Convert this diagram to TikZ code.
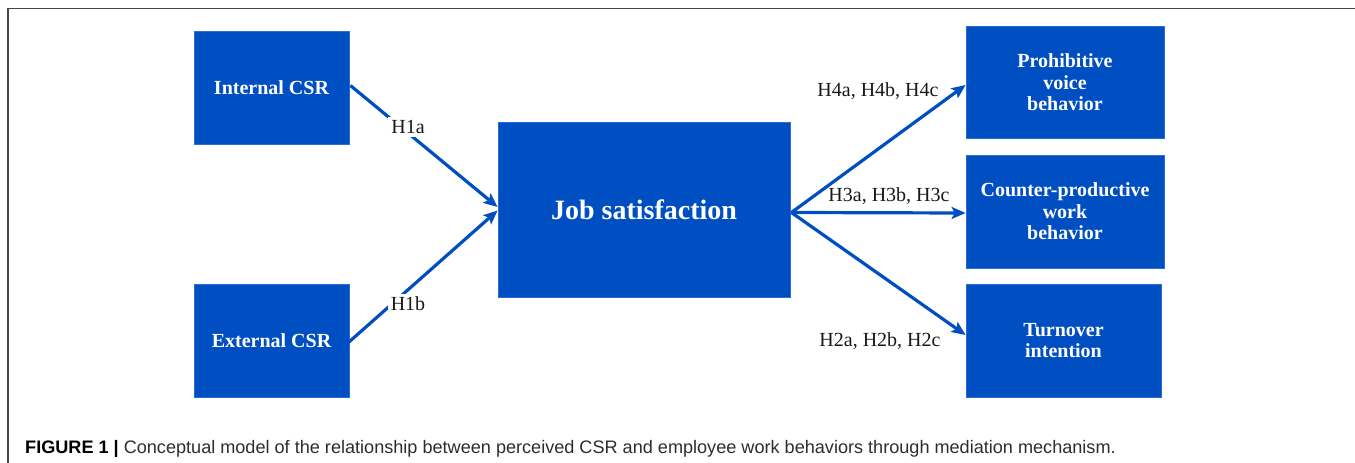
\documentclass[tikz,border=0pt]{standalone}
\usepackage{fontspec}
\setmainfont{Liberation Serif}
\newfontfamily\capfont{Liberation Sans}
\usetikzlibrary{arrows.meta,calc}
\definecolor{boxblue}{RGB}{0,79,194}
\definecolor{edgeblue}{RGB}{40,110,215}
\definecolor{framegray}{RGB}{70,70,70}
\definecolor{labelcol}{RGB}{25,25,25}
\definecolor{capgray}{RGB}{45,45,45}
\begin{document}
\begin{tikzpicture}[x=1pt,y=-1pt,
  blockbox/.style={draw=edgeblue,line width=0.8pt,fill=boxblue,text=white,align=center,
    inner sep=0pt,font=\fontsize{20}{21.5}\selectfont\bfseries},
  arr/.style={draw=boxblue,line width=3.2pt,-{Stealth[length=14pt,width=12pt,inset=3pt]}},
  hlabel/.style={text=labelcol,inner sep=1pt,font=\fontsize{20}{22}\selectfont},
  hlabelcut/.style={hlabel,fill=white,inner sep=3pt}]
\useasboundingbox (0,0) rectangle (1355,463);
% frame
\draw[framegray,line width=1.5pt] (8,463) -- (8,8.5) -- (1355,8.5);
% boxes
\node[blockbox,minimum width=155pt,minimum height=113pt] (int) at (271.5,87.5) {Internal CSR};
\node[blockbox,minimum width=155pt,minimum height=113pt] (ext) at (271.5,340.5) {External CSR};
\node[blockbox,minimum width=292pt,minimum height=175pt,font=\fontsize{28}{30}\selectfont\bfseries] (job) at (644,209.5) {Job satisfaction};
\node[blockbox,minimum width=198pt,minimum height=112pt] (pro) at (1065,82.5) {Prohibitive\\voice\\behavior};
\node[blockbox,minimum width=198pt,minimum height=113pt] (cnt) at (1065,211.5) {Counter-productive\\work\\behavior};
\node[blockbox,minimum width=195pt,minimum height=113pt] (trn) at (1063.5,340.5) {Turnover\\intention};
% connectors
\draw[arr] ($(int.east)+(1,-2)$) -- ($(job.west)+(0,-2.5)$);
\draw[arr] ($(ext.east)+(-1,2)$) -- ($(job.west)+(0,1)$);
\draw[arr] ($(job.east)+(1,3)$) -- ($(pro.west)+(0,2.5)$);
\draw[arr] ($(job.east)+(1,3)$) -- ($(cnt.west)+(0,1.5)$);
\draw[arr] ($(job.east)+(1,3)$) -- ($(trn.west)+(0,-5.5)$);
% labels
\node[hlabelcut] (l1a) at (408,127) {H1a};
\node[hlabelcut] (l1b) at (408,304) {H1b};
\node[hlabel] (l4) at (878,91) {H4a, H4b, H4c};
\node[hlabel] (l3) at (889,196) {H3a, H3b, H3c};
\node[hlabel] (l2) at (880,341) {H2a, H2b, H2c};
% caption
\node[anchor=base west,inner sep=0pt,text=capgray,font=\capfont\fontsize{18.1}{20}\selectfont] (cap) at (25,453)
  {{\bfseries\color{black}FIGURE 1 \textbar} Conceptual model of the relationship between perceived CSR and employee work behaviors through mediation mechanism.};
\end{tikzpicture}
\end{document}
